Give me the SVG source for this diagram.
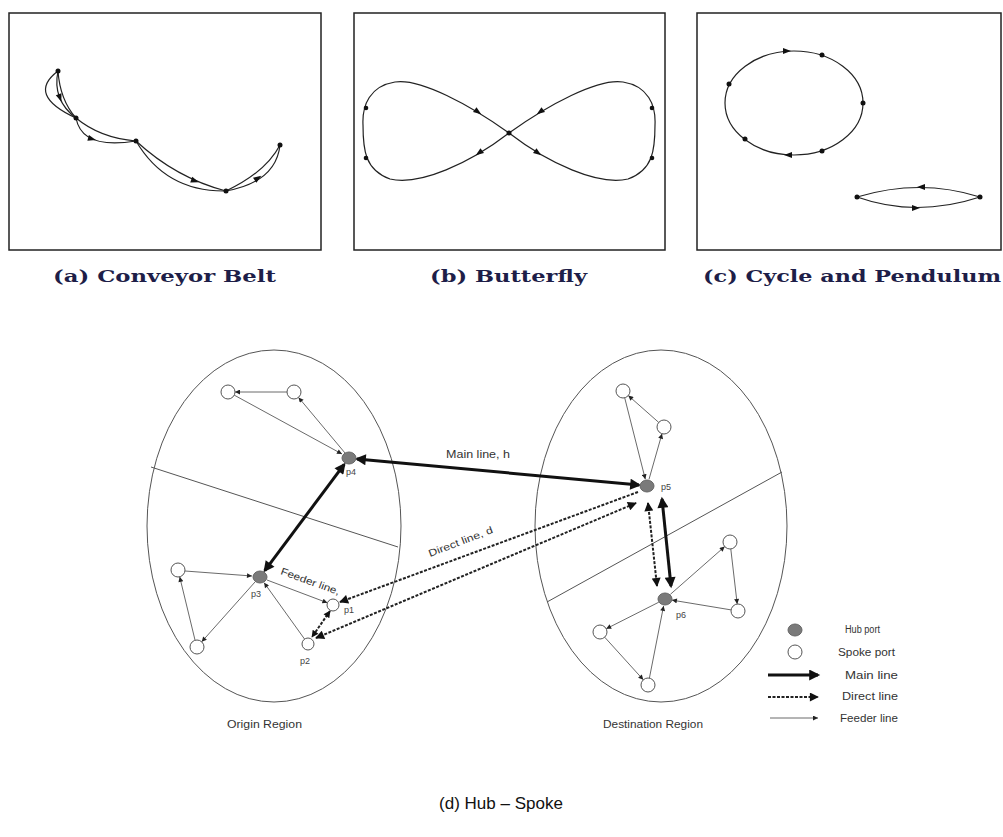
<svg xmlns="http://www.w3.org/2000/svg" xmlns:xlink="http://www.w3.org/1999/xlink" width="1003" height="837" viewBox="0 0 1003 837">
<style>
.box{fill:none;stroke:#222;stroke-width:1.5}
.cap{font-family:"DejaVu Serif","Liberation Serif",serif;font-weight:bold;font-size:17px;fill:#1e1e48}
.crv{fill:none;stroke:#222;stroke-width:1.2}
.dot{fill:#111}
.reg{fill:none;stroke:#555;stroke-width:1}
.spoke{fill:#fff;stroke:#555;stroke-width:1}
.hub{fill:#7a7a7a;stroke:#666;stroke-width:1}
.feed{fill:none;stroke:#444;stroke-width:0.8;marker-end:url(#af)}
.main{fill:none;stroke:#111;stroke-width:3;marker-start:url(#am);marker-end:url(#am)}
.dir{fill:none;stroke:#222;stroke-width:2;stroke-dasharray:3,1.5}
.lbl{font-family:"Liberation Sans",Arial,sans-serif;font-size:10px;fill:#333}
.pl{font-family:"Liberation Sans",Arial,sans-serif;font-size:9px;fill:#444}
</style>
<defs>
<marker id="af" viewBox="0 0 10 10" refX="10" refY="5" markerUnits="userSpaceOnUse" markerWidth="7" markerHeight="5" orient="auto-start-reverse"><path d="M0,0L10,5L0,10z" fill="#222"/></marker>
<marker id="am" viewBox="0 0 10 10" refX="8" refY="5" markerUnits="userSpaceOnUse" markerWidth="15" markerHeight="11" orient="auto-start-reverse"><path d="M0,0L10,5L0,10z" fill="#111"/></marker>
<marker id="ad" viewBox="0 0 10 10" refX="9" refY="5" markerUnits="userSpaceOnUse" markerWidth="12" markerHeight="9" orient="auto-start-reverse"><path d="M0,0L10,5L0,10z" fill="#111"/></marker>
<marker id="ads" viewBox="0 0 10 10" refX="9" refY="5" markerUnits="userSpaceOnUse" markerWidth="9" markerHeight="7" orient="auto-start-reverse"><path d="M0,0L10,5L0,10z" fill="#111"/></marker>
<path id="tri" d="M-4,-3L4,0L-4,3z" fill="#111"/>
</defs>

<!-- (a) Conveyor Belt -->
<g id="panel-a">
<rect class="box" x="9" y="13" width="312" height="237"/>
<path class="crv" d="M58,71 Q26,95 76,118"/>
<path class="crv" d="M58,71 Q52,100 76,118"/>
<path class="crv" d="M58,71 Q60,100 76,118"/>
<path class="crv" d="M76,118 Q82,150 136,141"/>
<path class="crv" d="M76,118 Q100,138 136,141"/>
<path class="crv" d="M136,141 Q166,192 226,191"/>
<path class="crv" d="M136,141 Q176,178 226,191"/>
<path class="crv" d="M226,191 Q276,182 280,145"/>
<path class="crv" d="M226,191 Q266,172 280,145"/>
<use xlink:href="#tri" transform="translate(60,98) rotate(70)"/>
<use xlink:href="#tri" transform="translate(92,139) rotate(15)"/>
<use xlink:href="#tri" transform="translate(195,181) rotate(20)"/>
<use xlink:href="#tri" transform="translate(258,178) rotate(-35)"/>
<circle class="dot" cx="58" cy="71" r="2.5"/>
<circle class="dot" cx="76" cy="118" r="2.5"/>
<circle class="dot" cx="136" cy="141" r="2.5"/>
<circle class="dot" cx="226" cy="191" r="2.5"/>
<circle class="dot" cx="280" cy="145" r="2.5"/>
<text class="cap" x="53" y="282" textLength="223" lengthAdjust="spacingAndGlyphs">(a) Conveyor Belt</text>
</g>

<!-- (b) Butterfly -->
<g id="panel-b">
<rect class="box" x="354" y="13" width="311" height="237"/>
<path class="crv" d="M509,133 C470,105 420,78 395,82 C370,86 362,105 363,125 C363,150 365,170 390,179 C420,186 470,163 509,133 C548,105 598,78 623,82 C648,86 656,105 655,125 C655,150 653,170 628,179 C598,186 548,163 509,133"/>
<use xlink:href="#tri" transform="translate(478,112) rotate(36)"/>
<use xlink:href="#tri" transform="translate(540,112) rotate(144)"/>
<use xlink:href="#tri" transform="translate(479,153) rotate(144)"/>
<use xlink:href="#tri" transform="translate(538,153) rotate(36)"/>
<circle class="dot" cx="509" cy="133" r="2.5"/>
<circle class="dot" cx="366" cy="108" r="2.3"/>
<circle class="dot" cx="366" cy="158" r="2.3"/>
<circle class="dot" cx="652" cy="108" r="2.3"/>
<circle class="dot" cx="652" cy="158" r="2.3"/>
<text class="cap" x="430" y="282" textLength="157" lengthAdjust="spacingAndGlyphs">(b) Butterfly</text>
</g>

<!-- (c) Cycle and Pendulum -->
<g id="panel-c">
<rect class="box" x="697" y="13" width="304" height="237"/>
<ellipse class="crv" cx="794" cy="103" rx="69" ry="52"/>
<use xlink:href="#tri" transform="translate(787,51) rotate(0)"/>
<use xlink:href="#tri" transform="translate(788,155) rotate(180)"/>
<circle class="dot" cx="822" cy="55" r="2.5"/>
<circle class="dot" cx="729" cy="84" r="2.5"/>
<circle class="dot" cx="863" cy="103" r="2.5"/>
<circle class="dot" cx="745" cy="139" r="2.5"/>
<circle class="dot" cx="822" cy="151" r="2.5"/>
<path class="crv" d="M857,197 Q920,178 980,197"/>
<path class="crv" d="M857,197 Q916,218 980,197"/>
<use xlink:href="#tri" transform="translate(921,187) rotate(180)"/>
<use xlink:href="#tri" transform="translate(916,208) rotate(0)"/>
<circle class="dot" cx="857" cy="197" r="2.5"/>
<circle class="dot" cx="980" cy="197" r="2.5"/>
<text class="cap" x="703" y="282" textLength="298" lengthAdjust="spacingAndGlyphs">(c) Cycle and Pendulum</text>
</g>

<!-- (d) Hub - Spoke: regions -->
<g id="origin-region">
<ellipse class="reg" cx="274" cy="526" rx="127" ry="176"/>
<line class="reg" x1="151" y1="467" x2="398" y2="547"/>
<text class="lbl" x="227" y="728" textLength="75" lengthAdjust="spacingAndGlyphs">Origin Region</text>
</g>
<g id="destination-region">
<ellipse class="reg" cx="661" cy="526" rx="126" ry="176"/>
<line class="reg" x1="547" y1="602" x2="782" y2="472"/>
<text class="lbl" x="603" y="728" textLength="100" lengthAdjust="spacingAndGlyphs">Destination Region</text>
</g>

<!-- connectors -->
<g id="connectors">
<line class="feed" x1="287" y1="392" x2="235" y2="392"/>
<line class="feed" x1="234" y1="395" x2="342" y2="454"/>
<line class="feed" x1="345" y1="453" x2="298.5" y2="397.4"/>
<line class="feed" x1="185" y1="571" x2="252" y2="576"/>
<line class="feed" x1="255" y1="582" x2="201.7" y2="641.8"/>
<line class="feed" x1="195" y1="640" x2="179.7" y2="576.8"/>
<line class="feed" x1="267" y1="580" x2="327.4" y2="602.8"/>
<line class="feed" x1="304.5" y1="639" x2="264.1" y2="582.7"/>
<line class="feed" x1="624.7" y1="397.8" x2="645.3" y2="479.2"/>
<line class="feed" x1="649" y1="479.3" x2="662" y2="433.7"/>
<line class="feed" x1="658.7" y1="422.4" x2="628.3" y2="395.6"/>
<line class="feed" x1="670.3" y1="594.4" x2="724.7" y2="546.6"/>
<line class="feed" x1="730.8" y1="549" x2="737.2" y2="604"/>
<line class="feed" x1="731.1" y1="609.9" x2="671.9" y2="600.1"/>
<line class="feed" x1="658.8" y1="602.2" x2="606.2" y2="628.8"/>
<line class="feed" x1="604.7" y1="637.2" x2="643.3" y2="679.8"/>
<line class="feed" x1="649.4" y1="678.1" x2="663.6" y2="605.9"/>
<line class="main" x1="357" y1="459" x2="639" y2="485"/>
<line class="main" x1="264.8" y1="570.6" x2="344.2" y2="464.4"/>
<line class="main" x1="662" y1="499" x2="671" y2="586"/>
<line class="dir" x1="638" y1="492" x2="340" y2="602" style="marker-end:url(#ad)"/>
<line class="dir" x1="316" y1="638" x2="636" y2="503" style="marker-start:url(#ad);marker-end:url(#ad)"/>
<line class="dir" x1="330" y1="611" x2="312" y2="637" style="marker-start:url(#ads);marker-end:url(#ads)"/>
<line class="dir" x1="648" y1="503" x2="657" y2="586" style="marker-start:url(#ad);marker-end:url(#ad)"/>
<text class="lbl" x="446" y="458" textLength="64" lengthAdjust="spacingAndGlyphs">Main line, h</text>
<text class="lbl" transform="translate(430,557) rotate(-21)" textLength="68" lengthAdjust="spacingAndGlyphs">Direct line, d</text>
<text class="lbl" transform="translate(280,574) rotate(20)" textLength="62" lengthAdjust="spacingAndGlyphs">Feeder line,</text>
</g>

<g id="spoke-a"><circle class="spoke" cx="228" cy="392" r="7"/></g>
<g id="spoke-b"><circle class="spoke" cx="294" cy="392" r="7"/></g>
<g id="p4"><ellipse class="hub" cx="349" cy="458" rx="7" ry="6"/><text class="pl" x="346" y="475">p4</text></g>
<g id="p3"><ellipse class="hub" cx="260" cy="577" rx="7" ry="6"/><text class="pl" x="251" y="597">p3</text></g>
<g id="spoke-c"><circle class="spoke" cx="178" cy="570" r="7"/></g>
<g id="spoke-d"><circle class="spoke" cx="197" cy="647" r="7"/></g>
<g id="p1"><circle class="spoke" cx="333" cy="605" r="6"/><text class="pl" x="344" y="613">p1</text></g>
<g id="p2"><circle class="spoke" cx="308" cy="644" r="6"/><text class="pl" x="300" y="664">p2</text></g>

<g id="spoke-e"><circle class="spoke" cx="623" cy="391" r="7"/></g>
<g id="spoke-f"><circle class="spoke" cx="664" cy="427" r="7"/></g>
<g id="p5"><ellipse class="hub" cx="647" cy="486" rx="7" ry="6"/><text class="pl" x="661" y="490">p5</text></g>
<g id="p6"><ellipse class="hub" cx="665" cy="599" rx="7" ry="6"/><text class="pl" x="676" y="618">p6</text></g>
<g id="spoke-g"><circle class="spoke" cx="730" cy="542" r="7"/></g>
<g id="spoke-h"><circle class="spoke" cx="738" cy="611" r="7"/></g>
<g id="spoke-i"><circle class="spoke" cx="600" cy="632" r="7"/></g>
<g id="spoke-j"><circle class="spoke" cx="648" cy="685" r="7"/></g>

<g id="legend">
<ellipse class="hub" cx="795" cy="630" rx="7" ry="6"/>
<circle class="spoke" cx="795" cy="652" r="7"/>
<line x1="768" y1="675" x2="818" y2="675" style="stroke:#111;stroke-width:3;marker-end:url(#am)"/>
<line class="dir" x1="768" y1="697" x2="818" y2="697" style="marker-end:url(#ad)"/>
<line class="feed" x1="770" y1="718" x2="818" y2="718"/>
<text class="lbl" x="845" y="633" textLength="35" lengthAdjust="spacingAndGlyphs">Hub port</text>
<text class="lbl" x="838" y="656" textLength="57" lengthAdjust="spacingAndGlyphs">Spoke port</text>
<text class="lbl" x="845" y="679" textLength="53" lengthAdjust="spacingAndGlyphs">Main line</text>
<text class="lbl" x="842" y="700" textLength="56" lengthAdjust="spacingAndGlyphs">Direct line</text>
<text class="lbl" x="840" y="722" textLength="58" lengthAdjust="spacingAndGlyphs">Feeder line</text>
</g>

<text x="501" y="809" text-anchor="middle" style="font-family:'Liberation Sans',Arial,sans-serif;font-size:17px;fill:#111">(d) Hub – Spoke</text>
</svg>
